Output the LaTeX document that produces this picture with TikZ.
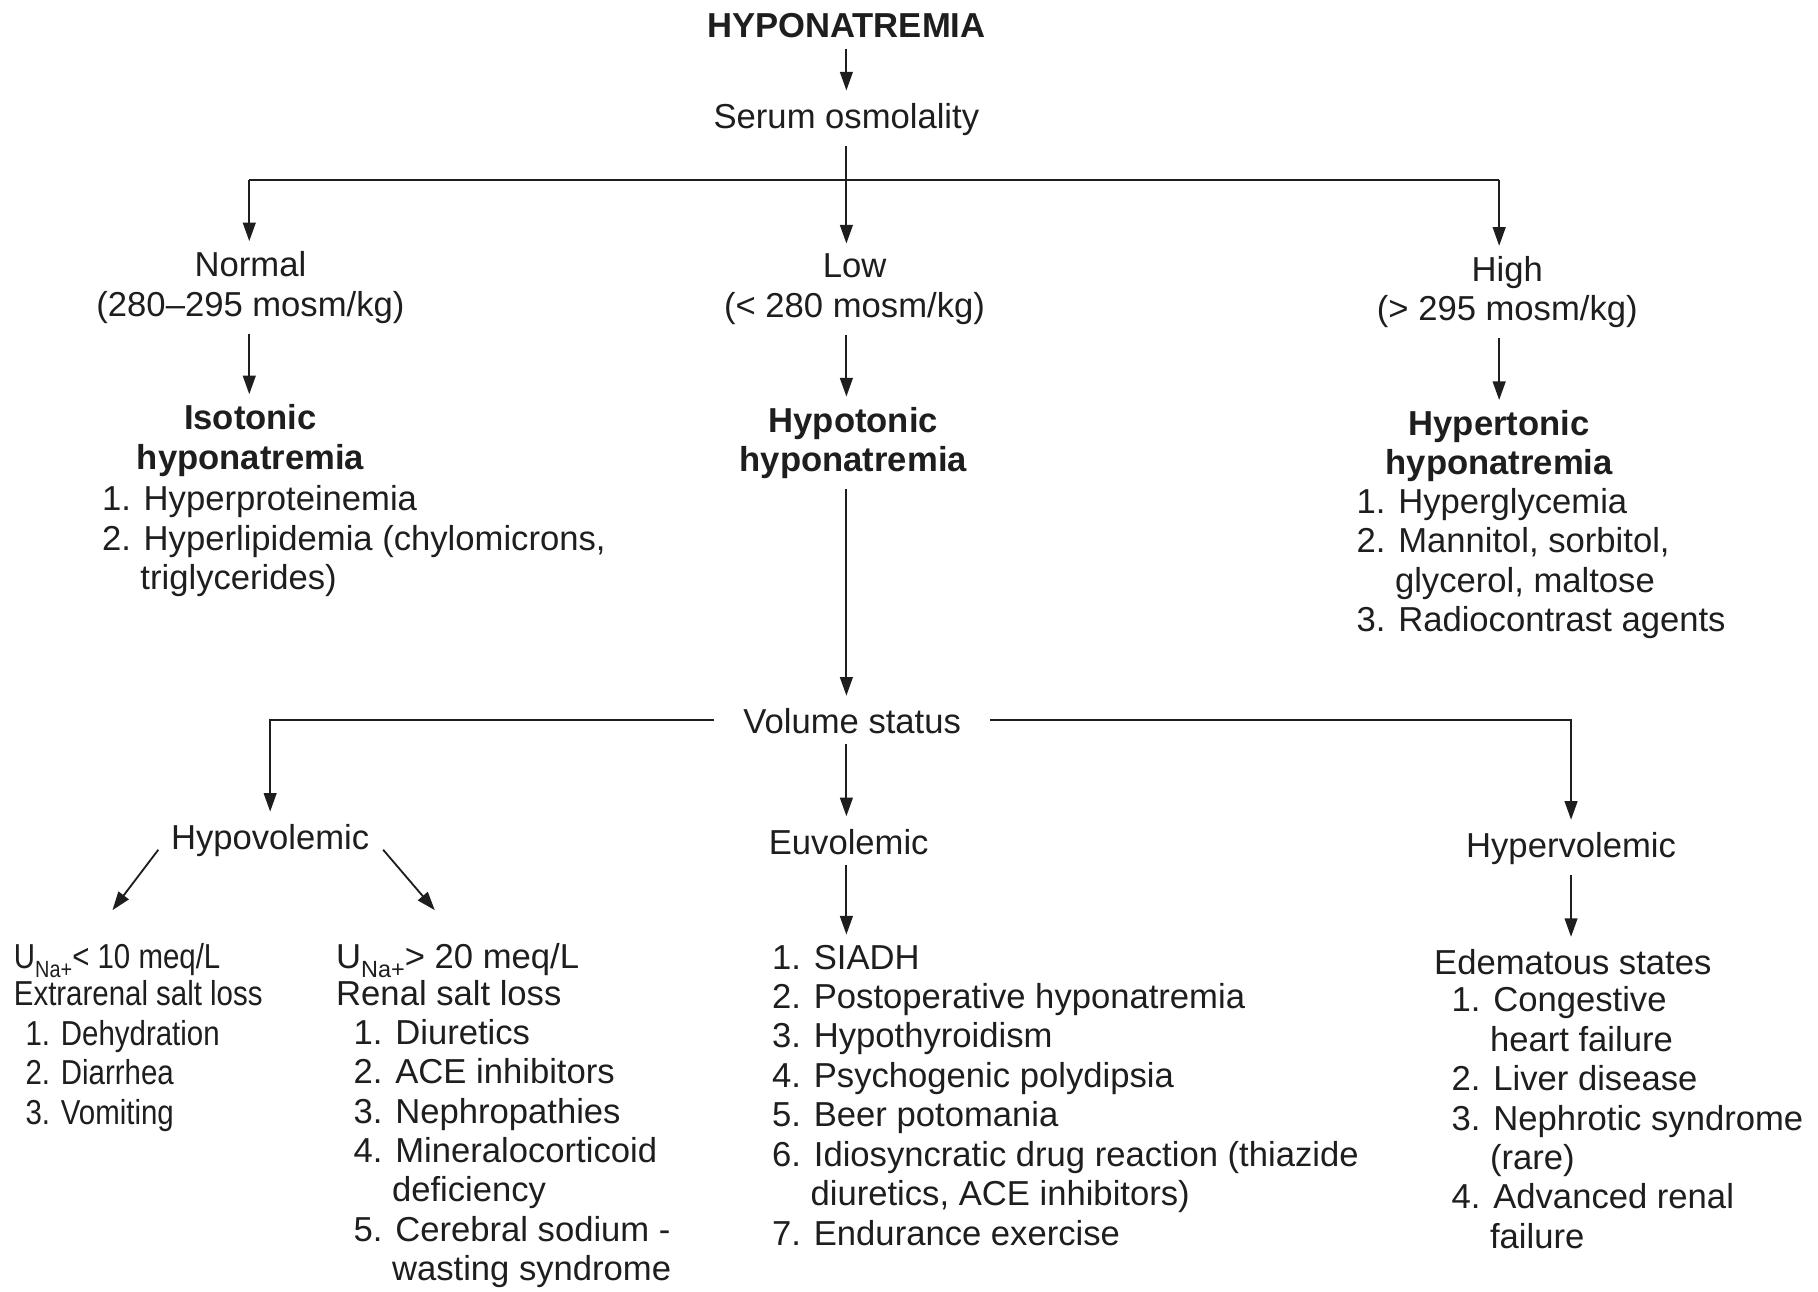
\documentclass[tikz,border=0pt]{standalone}
\usepackage{fontspec}
\setmainfont{Liberation Sans}
\newfontfamily\condfont[FakeStretch=0.85]{Liberation Sans}
\usetikzlibrary{arrows.meta}
\definecolor{ink}{RGB}{30,30,30}
\newcommand\fst{\rule{0pt}{13.5pt}}
\newcommand\una{U\raisebox{-0.25em}{\fontsize{11.5pt}{11.5pt}\selectfont Na+}}
\begin{document}
\begin{tikzpicture}[x=0.02cm,y=-0.02cm,
  txt/.style={inner sep=0.18cm, outer sep=0pt, text=ink, font=\fontsize{17pt}{19.35pt}\selectfont},
  ctr/.style={txt, anchor=north, align=center, execute at begin node=\fst},
  lst/.style={txt, anchor=north west, align=left, execute at begin node=\fst},
  bld/.style={ctr, font=\fontsize{17pt}{19.35pt}\selectfont\bfseries},
  headfont/.style={font=\fontsize{17pt}{17.8pt}\selectfont},
  condhead/.style={font=\fontsize{17pt}{17.8pt}\selectfont\condfont},
  cond/.style={font=\fontsize{17pt}{19.35pt}\selectfont\condfont},
  arr/.style={draw=ink, line width=0.9pt, -{Triangle[length=0.32cm,width=0.22cm]}},
  ln/.style={draw=ink, line width=0.9pt}]
\fill[white] (0,0) rectangle (1568,1114);
\useasboundingbox (0,0) rectangle (1568,1114);

\node[bld] (title) at (730,0) {HYPONATREMIA};
\node[ctr] (serum) at (730,78) {Serum osmolality};
\node[ctr] (normal) at (216,208) {Normal\\(280--295 mosm/kg)};
\node[ctr] (low) at (737,210) {Low\\(< 280 mosm/kg)};
\node[ctr] (high) at (1300,212) {High\\(> 295 mosm/kg)};
\node[bld] (iso) at (216,340) {Isotonic\\hyponatremia};
\node[lst] (isolist) at (79,410) {1. Hyperproteinemia\\2. Hyperlipidemia (chylomicrons,\\\hspace*{1.11em}triglycerides)};
\node[bld] (hypot) at (736,342) {Hypotonic\\hyponatremia};
\node[bld] (hypert) at (1293,345) {Hypertonic\\hyponatremia};
\node[lst] (hypertlist) at (1161,412) {1. Hyperglycemia\\2. Mannitol, sorbitol,\\\hspace*{1.11em}glycerol, maltose\\3. Radiocontrast agents};
\node[ctr, inner xsep=0.5cm] (volume) at (735,600) {Volume status};
\node[ctr] (hypovol) at (233,700) {Hypovolemic};
\node[ctr] (euvol) at (732,704) {Euvolemic};
\node[ctr] (hypervol) at (1355,707) {Hypervolemic};
\node[lst, condhead] (ulowhead) at (3,805) {\una< 10 meq/L\\Extrarenal salt loss};
\node[lst, cond] (ulowlist) at (13,871) {1. Dehydration\\2. Diarrhea\\3. Vomiting};
\node[lst, headfont] (uhighhead) at (281,805) {\una> 20 meq/L\\Renal salt loss};
\node[lst] (uhighlist) at (296,870) {1. Diuretics\\2. ACE inhibitors\\3. Nephropathies\\4. Mineralocorticoid\\\hspace*{1.11em}deficiency\\5. Cerebral sodium -\\\hspace*{1.11em}wasting syndrome};
\node[lst] (euvlist) at (657,806) {1. SIADH\\2. Postoperative hyponatremia\\3. Hypothyroidism\\4. Psychogenic polydipsia\\5. Beer potomania\\6. Idiosyncratic drug reaction (thiazide\\\hspace*{1.11em}diuretics, ACE inhibitors)\\7. Endurance exercise};
\node[lst] (edemhead) at (1228,808) {Edematous states};
\node[lst] (edemlist) at (1243,842) {1. Congestive\\\hspace*{1.11em}heart failure\\2. Liver disease\\3. Nephrotic syndrome\\\hspace*{1.11em}(rare)\\4. Advanced renal\\\hspace*{1.11em}failure};

\coordinate (bN) at (215,155);
\coordinate (bH) at (1293,155);
\coordinate (d1s) at ([shift={(-2,-15)}]hypovol.south west);
\coordinate (d1e) at ([shift={(94,-20)}]ulowhead.north west);
\coordinate (d2s) at ([shift={(3,-15)}]hypovol.south east);
\coordinate (d2e) at ([shift={(94,-20)}]uhighhead.north west);

\draw[arr] (title) -- (serum);
\draw[arr] (serum) -- (serum |- low.north);
\draw[ln] (bN) -- (bH);
\draw[arr] (bN) -- (bN |- normal.north);
\draw[arr] (bH) -- (bH |- high.north);
\draw[arr] (bN |- normal.south) -- (bN |- iso.north);
\draw[arr] (serum |- low.south) -- (serum |- hypot.north);
\draw[arr] (bH |- high.south) -- (bH |- hypert.north);
\draw[arr] (serum |- hypot.south) -- (serum |- volume.north);
\draw[arr] (volume.west) -| (hypovol.north);
\draw[arr] (volume.east) -| (hypervol.north);
\draw[arr] (serum |- volume.south) -- (serum |- euvol.north);
\draw[arr] (d1s) -- (d1e);
\draw[arr] (d2s) -- (d2e);
\draw[arr] (serum |- euvol.south) -- (serum |- euvlist.north);
\draw[arr] (hypervol.south) -- (hypervol.south |- edemhead.north);
\end{tikzpicture}
\end{document}
